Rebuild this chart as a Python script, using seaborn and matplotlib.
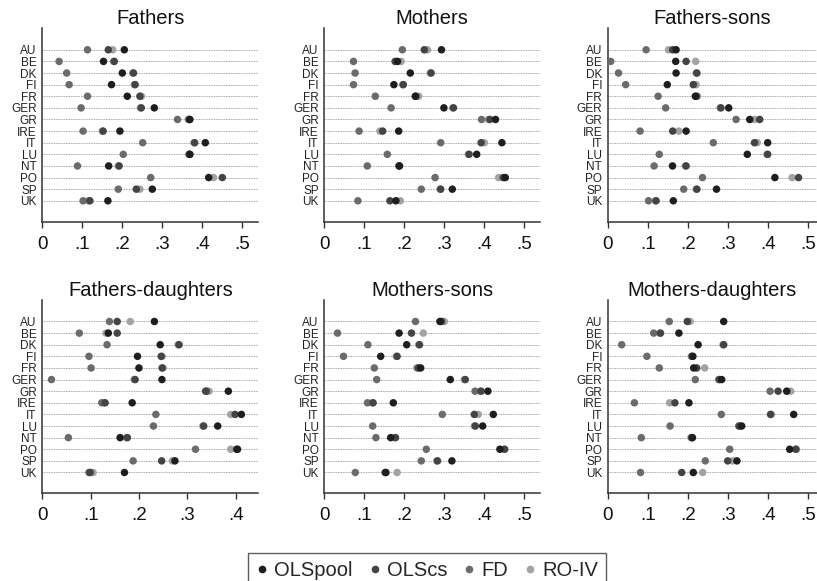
import seaborn as sns
import matplotlib.pyplot as plt
import pandas as pd
import numpy as np
from matplotlib.lines import Line2D

sns.set_style("ticks")
plt.rcParams["font.family"] = ["Liberation Sans", "DejaVu Sans"]

# ---- data (intergenerational estimates) ----
countries = ["AU", "BE", "DK", "FI", "FR", "GER", "GR", "IRE", "IT", "LU", "NT", "PO", "SP", "UK"]
estimators = ["OLSpool", "OLScs", "FD", "RO-IV"]
panels = ["Fathers", "Mothers", "Fathers-sons", "Fathers-daughters", "Mothers-sons", "Mothers-daughters"]

fathers_pool = [.205, .153, .200, .173, .2125, .280, .369, .194, .4075, .369, .166, .416, .275, .164]
fathers_cs = [.165, .180, .228, .232, .244, .2475, .367, .152, .381, .368, .192, .450, .235, .119]
fathers_fd = [.113, .042, .061, .067, .113, .097, .338, .102, .251, .2025, .088, .271, .190, .102]
fathers_ro = [.176, .178, .226, .230, .248, .245, .365, .150, .379, .366, .190, .428, .244, .115]

mothers_pool = [.293, .183, .215, .174, .2275, .299, .428, .186, .444, .381, .188, .4525, .320, .179]
mothers_cs = [.250, .177, .267, .1975, .229, .323, .414, .146, .392, .362, .187, .4475, .291, .164]
mothers_fd = [.195, .073, .077, .073, .1275, .167, .393, .087, .291, .1575, .1075, .277, .2425, .084]
mothers_ro = [.258, .192, .265, .196, .236, .321, .410, .139, .400, .360, .186, .436, .289, .190]

fson_pool = [.171, .170, .171, .149, .219, .3025, .355, .196, .400, .349, .162, .418, .272, .164]
fson_cs = [.1625, .196, .223, .214, .222, .283, .380, .1625, .367, .400, .196, .477, .223, .121]
fson_fd = [.096, .0075, .027, .045, .126, .145, .321, .081, .264, .129, .116, .237, .190, .102]
fson_ro = [.152, .220, .221, .221, .224, .281, .367, .178, .374, .398, .194, .461, .221, .119]

fdau_pool = [.232, .1366, .244, .197, .200, .2476, .385, .186, .412, .363, .161, .404, .2745, .170]
fdau_cs = [.155, .155, .283, .246, .248, .192, .338, .130, .399, .334, .176, .402, .247, .099]
fdau_fd = [.139, .0766, .134, .0966, .101, .019, .340, .123, .235, .230, .054, .317, .188, .0966]
fdau_ro = [.182, .132, .281, .248, .250, .190, .345, .128, .390, .332, .174, .390, .269, .105]

mson_pool = [.289, .187, .206, .141, .241, .315, .409, .1725, .4225, .396, .166, .439, .319, .154]
mson_cs = [.293, .218, .238, .182, .235, .3525, .392, .122, .375, .3775, .178, .451, .283, .152]
mson_fd = [.228, .033, .109, .048, .125, .131, .377, .108, .295, .121, .129, .255, .2425, .0775]
mson_ro = [.300, .2475, .236, .180, .231, .350, .390, .120, .385, .375, .176, .449, .281, .182]

mdau_pool = [.290, .178, .226, .213, .215, .285, .4475, .203, .465, .335, .212, .455, .323, .214]
mdau_cs = [.199, .132, .290, .211, .2225, .279, .426, .168, .407, .328, .210, .471, .300, .185]
mdau_fd = [.154, .115, .035, .098, .129, .219, .406, .0667, .284, .156, .084, .305, .244, .082]
mdau_ro = [.206, .130, .288, .209, .2425, .277, .4575, .155, .409, .330, .208, .469, .312, .2375]

panel_values = {
    "Fathers": [fathers_pool, fathers_cs, fathers_fd, fathers_ro],
    "Mothers": [mothers_pool, mothers_cs, mothers_fd, mothers_ro],
    "Fathers-sons": [fson_pool, fson_cs, fson_fd, fson_ro],
    "Fathers-daughters": [fdau_pool, fdau_cs, fdau_fd, fdau_ro],
    "Mothers-sons": [mson_pool, mson_cs, mson_fd, mson_ro],
    "Mothers-daughters": [mdau_pool, mdau_cs, mdau_fd, mdau_ro],
}

palette = {"OLSpool": "#1e1e1e", "OLScs": "#444444", "FD": "#6b6b6b", "RO-IV": "#a3a3a3"}

# long table; lighter estimators first so the darker ones sit on top
rows = []
for p in panels:
    vals = panel_values[p]
    for k in [3, 2, 1, 0]:
        for c, v in zip(countries, vals[k]):
            rows.append([p, c, estimators[k], v])
df = pd.DataFrame(rows, columns=["Panel", "Country", "Estimator", "Value"])

# ---- figure layout (pixel boxes of the reference) ----
W, H = 817, 581
fig = plt.figure(figsize=(W / 100, H / 100), dpi=100)

boxes = {
    "Fathers": (42.3, 28.3, 216, 193.4, 0.54, [0, .1, .2, .3, .4, .5]),
    "Mothers": (324.3, 28.3, 216, 193.4, 0.54, [0, .1, .2, .3, .4, .5]),
    "Fathers-sons": (607.7, 28.3, 209, 193.4, 0.5225, [0, .1, .2, .3, .4, .5]),
    "Fathers-daughters": (42.3, 300, 216, 193.4, 0.447, [0, .1, .2, .3, .4]),
    "Mothers-sons": (324.3, 300, 216, 193.4, 0.54, [0, .1, .2, .3, .4, .5]),
    "Mothers-daughters": (607.7, 300, 209, 193.4, 0.5225, [0, .1, .2, .3, .4, .5]),
}

for p in panels:
    x0, y0, w, h, xmax, ticks = boxes[p]
    ax = fig.add_axes([x0 / W, 1 - (y0 + h) / H, w / W, h / H])
    sub = df[df["Panel"] == p]
    sns.stripplot(
        data=sub, x="Value", y="Country", hue="Estimator",
        order=countries, hue_order=estimators, palette=palette,
        jitter=False, dodge=False, size=5.4, linewidth=0,
        orient="h", legend=False, ax=ax, zorder=3,
    )
    ax.set_xlim(0, xmax)
    ax.set_ylim(14.8, -1.85)
    ax.set_xticks(ticks)
    ax.set_xticklabels(["0"] + ["." + str(int(round(t * 10))) for t in ticks[1:]])
    ax.set_xlabel("")
    ax.set_ylabel("")
    ax.set_title(p, fontsize=14.5, pad=2, color="#111111")
    ax.yaxis.grid(True, linestyle=(0, (1, 1)), color="#8a8a8a", linewidth=0.6)
    ax.set_axisbelow(True)
    ax.tick_params(axis="y", length=0, pad=4, labelsize=8.5, labelcolor="#222222")
    ax.tick_params(axis="x", length=4, width=1, pad=6, labelsize=13.5, color="#333333", labelcolor="#111111")
    sns.despine(ax=ax)
    for s in ["left", "bottom"]:
        ax.spines[s].set_linewidth(1.1)
        ax.spines[s].set_color("#333333")

handles = [Line2D([], [], marker="o", linestyle="", markersize=5.5,
                  markerfacecolor=palette[e], markeredgewidth=0) for e in estimators]
fig.legend(handles, estimators, loc="upper center", bbox_to_anchor=(427.2 / W, 1 - 542.7 / H),
           ncol=4, fontsize=14.5, frameon=True, fancybox=False, edgecolor="#333333",
           handlelength=0.6, handletextpad=0.3, columnspacing=0.8, borderpad=0.4)
fig.legends[0].get_frame().set_linewidth(1.0)

plt.savefig("out.png", dpi=100)
plt.close()
